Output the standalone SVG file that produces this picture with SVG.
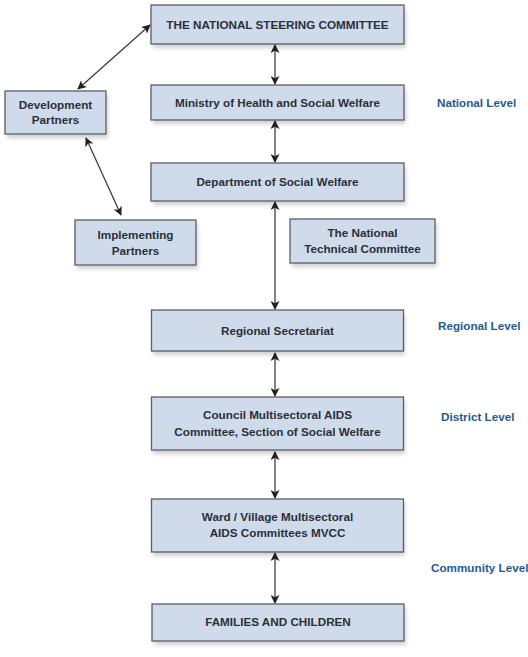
<svg xmlns="http://www.w3.org/2000/svg" width="528" height="657" viewBox="0 0 528 657">
<defs>
<style>
.box{fill:#cfdbea;stroke:#5a5e66;stroke-width:1.3}
.sh{fill:#000;opacity:0.18;filter:url(#blur)}
.t{font-family:"Liberation Sans",Arial,sans-serif;font-weight:bold;font-size:11.7px;fill:#2b2f38;text-anchor:middle}
.lv{font-family:"Liberation Sans",Arial,sans-serif;font-weight:bold;font-size:11.7px;fill:#1f5a96}
.c{stroke:#333;stroke-width:1.2;fill:none;marker-start:url(#a);marker-end:url(#a)}
</style>
<filter id="blur" x="-10%" y="-30%" width="120%" height="160%"><feGaussianBlur stdDeviation="2"/></filter>
<marker id="a" viewBox="0 0 10 10" refX="9" refY="5" markerWidth="9" markerHeight="9" orient="auto-start-reverse" markerUnits="userSpaceOnUse"><path d="M0,0 L10,5 L0,10 L2.5,5 Z" fill="#222"/></marker>
</defs>
<rect width="528" height="657" fill="#fff"/>
<g id="connectors">
<line class="c" x1="275" y1="45" x2="275" y2="84"/>
<line class="c" x1="275" y1="121" x2="275" y2="162"/>
<line class="c" x1="275" y1="202" x2="275" y2="309"/>
<line class="c" x1="275" y1="353" x2="275" y2="396"/>
<line class="c" x1="275" y1="452" x2="275" y2="498"/>
<line class="c" x1="275" y1="553" x2="275" y2="603"/>
<line class="c" x1="78" y1="89" x2="150" y2="25"/>
<line class="c" x1="86" y1="138" x2="121" y2="215"/>
</g>
<g id="nsc"><rect class="sh" x="153" y="9" width="253" height="39"/><rect class="box" x="151" y="5" width="253" height="39"/><text class="t" x="277.5" y="28.5">THE NATIONAL STEERING COMMITTEE</text></g>
<g id="moh"><rect class="sh" x="153" y="89" width="253" height="35"/><rect class="box" x="151" y="85" width="253" height="35"/><text class="t" x="277.5" y="106.5">Ministry of Health and Social Welfare</text></g>
<g id="dsw"><rect class="sh" x="153" y="167" width="253" height="38"/><rect class="box" x="151" y="163" width="253" height="38"/><text class="t" x="277.5" y="186">Department of Social Welfare</text></g>
<g id="dev"><rect class="sh" x="7" y="95" width="101" height="43"/><rect class="box" x="5" y="91" width="101" height="43"/><text class="t" x="55.5" y="108.5">Development</text><text class="t" x="55.5" y="124">Partners</text></g>
<g id="imp"><rect class="sh" x="77" y="224" width="121" height="45"/><rect class="box" x="75" y="220" width="121" height="45"/><text class="t" x="135.5" y="238.5">Implementing</text><text class="t" x="135.5" y="254.5">Partners</text></g>
<g id="ntc"><rect class="sh" x="292" y="223" width="145" height="44"/><rect class="box" x="290" y="219" width="145" height="44"/><text class="t" x="362.5" y="237">The National</text><text class="t" x="362.5" y="252.5">Technical Committee</text></g>
<g id="reg"><rect class="sh" x="153" y="314" width="252" height="41"/><rect class="box" x="151.5" y="310" width="252" height="41"/><text class="t" x="277.5" y="334.5">Regional Secretariat</text></g>
<g id="council"><rect class="sh" x="153" y="401" width="252" height="53"/><rect class="box" x="151.5" y="397" width="252" height="53"/><text class="t" x="277.5" y="419">Council Multisectoral AIDS</text><text class="t" x="277.5" y="435.5">Committee, Section of Social Welfare</text></g>
<g id="ward"><rect class="sh" x="153" y="503" width="252" height="53"/><rect class="box" x="151.5" y="499" width="252" height="53"/><text class="t" x="277.5" y="521">Ward / Village Multisectoral</text><text class="t" x="277.5" y="536.5">AIDS Committees MVCC</text></g>
<g id="fam"><rect class="sh" x="154" y="608" width="252" height="37"/><rect class="box" x="152" y="604" width="252" height="37"/><text class="t" x="278" y="626">FAMILIES AND CHILDREN</text></g>
<g id="levels">
<text class="lv" x="437" y="107">National Level</text>
<text class="lv" x="438" y="330">Regional Level</text>
<text class="lv" x="441" y="421">District Level</text>
<text class="lv" x="431" y="572">Community Level</text>
</g>
</svg>
